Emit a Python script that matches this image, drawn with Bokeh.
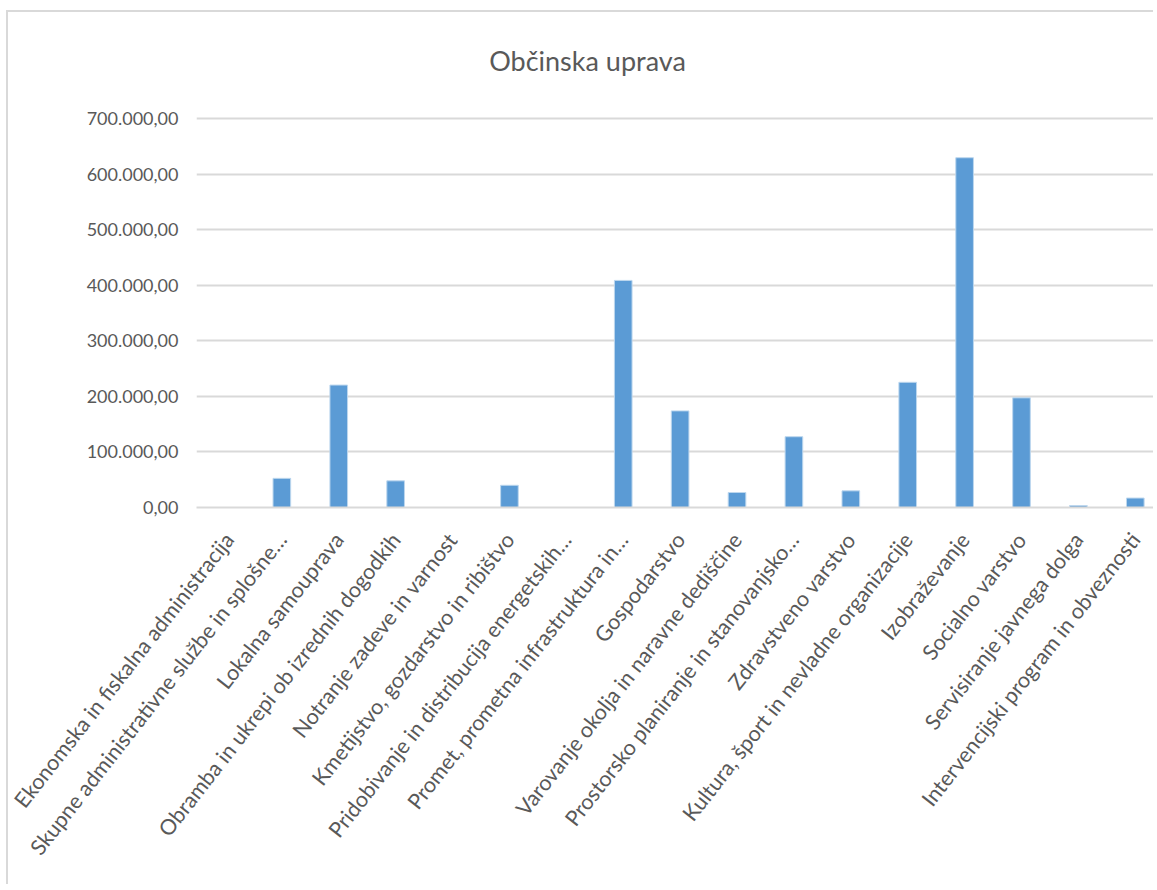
import math
from bokeh.plotting import figure
from bokeh.models import Range1d, FixedTicker, ColumnDataSource, Label
from bokeh.embed import file_html
from bokeh.resources import INLINE

categories = [
    "Ekonomska in fiskalna administracija",
    "Skupne administrativne službe in splošne…",
    "Lokalna samouprava",
    "Obramba in ukrepi ob izrednih dogodkih",
    "Notranje zadeve in varnost",
    "Kmetijstvo, gozdarstvo in ribištvo",
    "Pridobivanje in distribucija energetskih…",
    "Promet, prometna infrastruktura in…",
    "Gospodarstvo",
    "Varovanje okolja in naravne dediščine",
    "Prostorsko planiranje in stanovanjsko…",
    "Zdravstveno varstvo",
    "Kultura, šport in nevladne organizacije",
    "Izobraževanje",
    "Socialno varstvo",
    "Servisiranje javnega dolga",
    "Intervencijski program in obveznosti",
]
values = [0, 52500, 220500, 48000, 0, 40000, 0, 409000, 174000, 27000,
          127500, 30000, 225500, 630000, 197500, 3600, 17000]
y_ticks = [0, 100000, 200000, 300000, 400000, 500000, 600000, 700000]
y_tick_labels = ["0,00", "100.000,00", "200.000,00", "300.000,00",
                 "400.000,00", "500.000,00", "600.000,00", "700.000,00"]
title_text = "Občinska uprava"

TXT = "#595959"
GRID = "#d9d9d9"
BAR = "#5b9bd5"
FONT = "Lato"

W, H = 1147, 874
n = len(categories)
xs = list(range(n))

# frame spans from 20px below the top border down to the zero line; the
# axis ticks stop at 700.000,00 so the space above holds the chart title
p = figure(width=W, height=H, output_backend="svg", toolbar_location=None,
           x_range=Range1d(-0.5, 16.355), y_range=Range1d(0, 855540),
           min_border_left=188, min_border_right=0, min_border_top=20,
           min_border_bottom=379, background_fill_color="white",
           border_fill_color="white", outline_line_color=None)
p.styles = {"border-left": "2px solid #d9d9d9", "border-top": "2px solid #d9d9d9",
            "margin-top": "10px", "margin-left": "6px"}
p.title.text = ""
p.title.standoff = 0

src = ColumnDataSource(data=dict(x=xs, v=values))
p.vbar(x="x", top="v", width=0.31, source=src, fill_color=BAR,
       line_color="#bdd7ee", line_width=1)

# y axis
p.yaxis.ticker = FixedTicker(ticks=y_ticks)
p.yaxis.major_label_overrides = {t: l for t, l in zip(y_ticks, y_tick_labels)}
p.yaxis.axis_line_color = None
p.yaxis.major_tick_line_color = None
p.yaxis.minor_tick_line_color = None
p.yaxis.major_tick_out = 0
p.yaxis.major_label_standoff = 18
p.yaxis.major_label_text_font = FONT
p.yaxis.major_label_text_font_size = "18px"
p.yaxis.major_label_text_color = TXT

# x axis
p.xaxis.ticker = FixedTicker(ticks=xs)
p.xaxis.major_label_overrides = {i: c for i, c in zip(xs, categories)}
p.xaxis.major_label_orientation = math.radians(52)
p.xaxis.axis_line_color = GRID
p.xaxis.axis_line_width = 2
p.xaxis.major_tick_line_color = None
p.xaxis.minor_tick_line_color = None
p.xaxis.major_tick_out = 0
p.xaxis.major_label_standoff = 28
p.xaxis.major_label_text_font = FONT
p.xaxis.major_label_text_font_size = "21.5px"
p.xaxis.major_label_text_color = TXT

p.xgrid.grid_line_color = None
p.ygrid.grid_line_color = GRID
p.ygrid.grid_line_width = 2

p.add_layout(Label(x=391, y=447, x_units="screen", y_units="screen",
                   text=title_text, text_align="center", text_baseline="middle",
                   text_font=FONT, text_font_size="27px", text_color=TXT))

open("out.html", "w").write(file_html(p, INLINE))
